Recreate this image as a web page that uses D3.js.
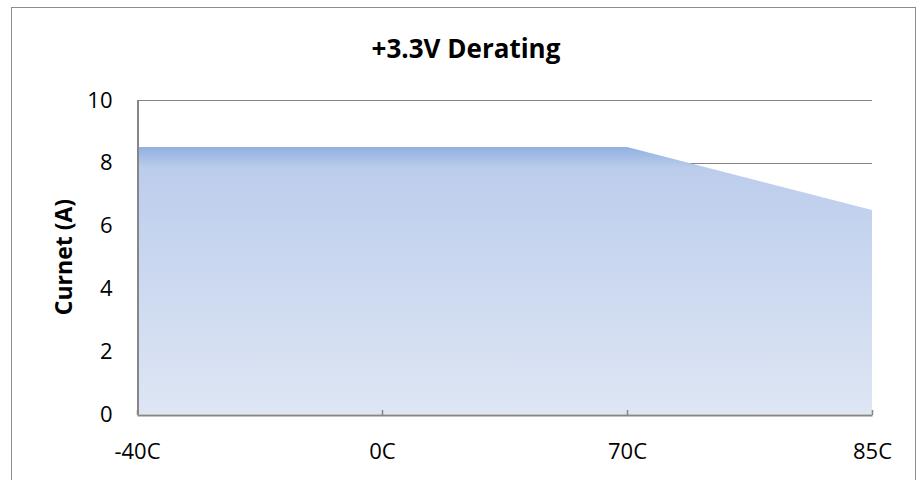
<!DOCTYPE html>
<html>
<head>
<meta charset="utf-8">
<script src="https://cdn.jsdelivr.net/npm/d3@7"></script>
<style>
  html, body { margin: 0; padding: 0; background: #fff; }
  svg { display: block; font-family: "Open Sans", Lato, sans-serif; }
</style>
</head>
<body>
<script>
// chart data
const categories = ['-40C', '0C', '70C', '85C']
const current = [8.5, 8.5, 8.5, 6.5]
const yTicks = [0, 2, 4, 6, 8, 10]
const title = '+3.3V Derating'
const yTitle = 'Curnet (A)'

const w = 922
const h = 480
const plot = { left: 137, right: 872, top: 100, bottom: 414 }

const svg = d3.select('body')
  .append('svg')
  .attr('width', w)
  .attr('height', h)

// chart border
svg.append('rect')
  .attr('x', 11.5).attr('y', 7.5)
  .attr('width', 904).attr('height', 480)
  .attr('fill', 'none')
  .attr('stroke', '#8c8c8c')
  .attr('stroke-width', 1)

const xScale = d3.scalePoint()
  .domain(categories)
  .range([plot.left, plot.right])

const yScale = d3.scaleLinear()
  .domain([0, 10])
  .range([plot.bottom, plot.top])

// gridlines (drawn below the area)
svg.append('g')
  .selectAll('line')
  .data(yTicks.filter(d => d > 0))
  .enter()
  .append('line')
  .attr('x1', plot.left).attr('x2', plot.right)
  .attr('y1', d => Math.round(yScale(d)) + 0.5)
  .attr('y2', d => Math.round(yScale(d)) + 0.5)
  .attr('stroke', '#868686')
  .attr('stroke-width', 1)

const defs = svg.append('defs')
const grad = defs.append('linearGradient')
  .attr('id', 'fillGrad')
  .attr('x1', 0).attr('y1', 0).attr('x2', 0).attr('y2', 1)
grad.append('stop').attr('offset', '0').attr('stop-color', '#92b0e1')
grad.append('stop').attr('offset', '0.08').attr('stop-color', '#bccdec')
grad.append('stop').attr('offset', '0.4').attr('stop-color', '#c8d6ef')
grad.append('stop').attr('offset', '1').attr('stop-color', '#dee6f4')

const rows = categories.map((c, i) => ({ c: c, v: current[i] }))

const area = d3.area()
  .x(d => xScale(d.c))
  .y0(yScale(0))
  .y1(d => yScale(d.v))

svg.append('path')
  .datum(rows)
  .attr('d', area)
  .attr('fill', 'url(#fillGrad)')

// y axis
const yAxis = svg.append('g')
  .attr('transform', `translate(${plot.left + 0.5},0)`)
  .call(d3.axisLeft(yScale).tickValues(yTicks).tickSize(0).tickPadding(25))
yAxis.select('.domain').attr('stroke', '#868686').attr('stroke-width', 2)
yAxis.selectAll('text')
  .attr('font-size', 22)
  .attr('fill', '#000')
  .attr('font-family', '"Open Sans", sans-serif')

// x axis, ticks pointing into the plot
const xAxis = svg.append('g')
  .attr('transform', `translate(0,${plot.bottom + 1})`)
  .call(d3.axisBottom(xScale).tickSizeInner(-5).tickSizeOuter(0).tickPadding(28))
xAxis.select('.domain').attr('stroke', '#868686').attr('stroke-width', 2)
xAxis.selectAll('.tick line').attr('stroke', '#868686').attr('stroke-width', 1.5)
xAxis.selectAll('text')
  .attr('font-size', 22)
  .attr('fill', '#000')
  .attr('font-family', '"Open Sans", sans-serif')

// titles
svg.append('text')
  .attr('x', 466).attr('y', 58)
  .attr('text-anchor', 'middle')
  .attr('font-size', 26)
  .attr('font-weight', 'bold')
  .text(title)

svg.append('text')
  .attr('transform', `translate(72,${(plot.top + plot.bottom) / 2}) rotate(-90)`)
  .attr('text-anchor', 'middle')
  .attr('font-size', 23)
  .attr('font-weight', 'bold')
  .text(yTitle)
</script>
</body>
</html>
